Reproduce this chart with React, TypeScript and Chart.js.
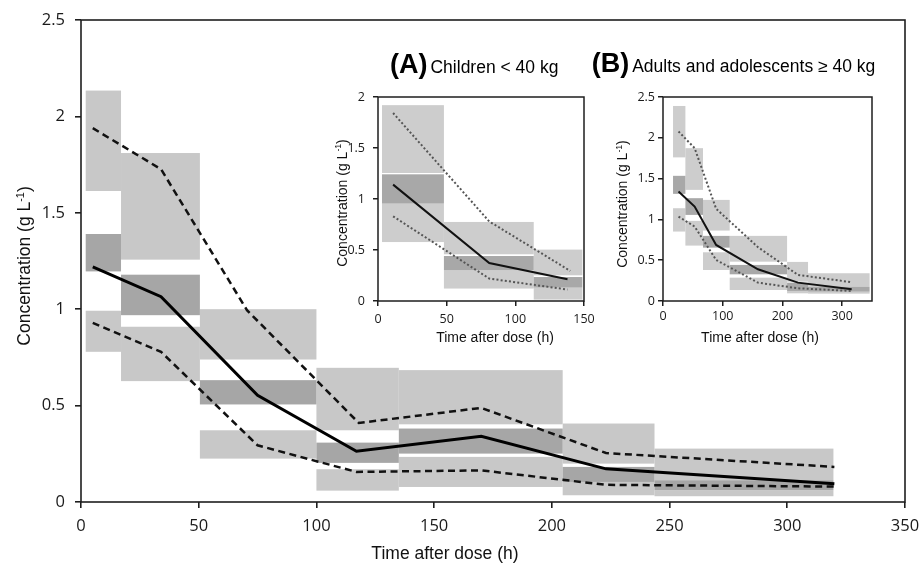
import React, { useEffect, useRef } from "react";
import { Chart, registerables } from "chart.js";

Chart.register(...registerables);

// ================= MAIN PANEL DATA =================
const mainXTicks = [0, 50, 100, 150, 200, 250, 300, 350];
const mainYTicks = [0, 0.5, 1, 1.5, 2, 2.5];
const mainBinStart = [2, 17, 50.5, 100, 135, 204.6, 243.6];
const mainBinEnd = [17, 50.5, 100, 135, 204.6, 243.6, 319.6];
const mainUpperHi = [2.134, 1.81, 1.0, 0.696, 0.684, 0.407, 0.277];
const mainUpperLo = [1.613, 1.257, 0.739, 0.372, 0.403, 0.199, 0.113];
const mainMedHi = [1.39, 1.179, 0.632, 0.308, 0.381, 0.182, 0.113];
const mainMedLo = [1.196, 0.969, 0.506, 0.203, 0.251, 0.104, 0.061];
const mainLowerHi = [0.992, 0.909, 0.372, 0.17, 0.234, 0.104, 0.061];
const mainLowerLo = [0.779, 0.627, 0.225, 0.059, 0.078, 0.035, 0.03];
const mainMedianT = [5, 34, 75, 117, 170, 223, 320];
const mainMedianC = [1.22, 1.065, 0.554, 0.263, 0.341, 0.172, 0.095];
const mainUpperT = [5, 34, 70.5, 118, 170, 223, 320];
const mainUpperC = [1.939, 1.726, 0.995, 0.41, 0.488, 0.254, 0.182];
const mainLowerT = [5, 34, 75, 117, 170, 223, 320];
const mainLowerC = [0.929, 0.779, 0.294, 0.156, 0.164, 0.089, 0.08];

// ================= INSET A DATA (Children < 40 kg) =================
const aXTicks = [0, 50, 100, 150];
const aYTicks = [0, 0.5, 1, 1.5, 2];
const aBinStart = [2.9, 48, 113.4];
const aBinEnd = [48, 113.4, 148.8];
const aUpperHi = [1.92, 0.775, 0.504];
const aUpperLo = [1.255, 0.458, 0.252];
const aMedHi = [1.242, 0.441, 0.235];
const aMedLo = [0.955, 0.301, 0.131];
const aLowerHi = [0.955, 0.301, 0.131];
const aLowerLo = [0.578, 0.122, 0.014];
const aMedianT = [11, 81, 138];
const aMedianC = [1.141, 0.373, 0.213];
const aUpperT = [11, 81, 140];
const aUpperC = [1.843, 0.78, 0.295];
const aLowerT = [11, 81, 138];
const aLowerC = [0.83, 0.22, 0.112];

// ================= INSET B DATA (Adults and adolescents >= 40 kg) =================
const bXTicks = [0, 100, 200, 300];
const bYTicks = [0, 0.5, 1, 1.5, 2, 2.5];
const bBinStart = [16.8, 37.5, 67, 111.7, 207.8, 242.9];
const bBinEnd = [37.5, 67, 111.7, 207.8, 242.9, 346];
const bUpperHi = [2.39, 1.873, 1.239, 0.798, 0.479, 0.34];
const bUpperLo = [1.76, 1.362, 0.863, 0.482, 0.237, 0.176];
const bMedHi = [1.534, 1.26, 0.798, 0.442, 0.225, 0.176];
const bMedLo = [1.313, 1.055, 0.654, 0.327, 0.123, 0.114];
const bLowerHi = [1.137, 0.982, 0.597, 0.286, 0.123, 0.114];
const bLowerLo = [0.851, 0.679, 0.38, 0.135, 0.094, 0.09];
const bMedianT = [26, 53, 89, 159, 226, 316];
const bMedianC = [1.341, 1.157, 0.687, 0.389, 0.225, 0.143];
const bUpperT = [26, 53, 89, 159, 226, 316];
const bUpperC = [2.078, 1.873, 1.13, 0.66, 0.32, 0.23];
const bLowerT = [26, 53, 89, 159, 226, 316];
const bLowerC = [1.035, 0.912, 0.503, 0.225, 0.156, 0.123];

const X_TITLE = "Time after dose (h)";
const Y_TITLE_MAIN = "Concentration (g L";
const Y_TITLE_SUP = "-1";
const Y_TITLE_END = ")";

type Box = { x0: number; x1: number; lo: number; hi: number; color: string };

function buildBoxes(
  start: number[], end: number[],
  uLo: number[], uHi: number[], mLo: number[], mHi: number[], lLo: number[], lHi: number[],
  light: string, dark: string
): Box[] {
  const out: Box[] = [];
  start.forEach((s, i) => {
    out.push({ x0: s, x1: end[i], lo: uLo[i], hi: uHi[i], color: light });
    out.push({ x0: s, x1: end[i], lo: lLo[i], hi: lHi[i], color: light });
  });
  start.forEach((s, i) => out.push({ x0: s, x1: end[i], lo: mLo[i], hi: mHi[i], color: dark }));
  return out;
}

function pts(t: number[], c: number[]) {
  return t.map((x, i) => ({ x, y: c[i] }));
}

type PanelCfg = {
  left: number; top: number; width: number; height: number;
  padTop: number; padRight: number; padLeft: number; padBottom: number; yWidth: number; xHeight: number;
  xMax: number; yMax: number; xTicks: number[]; yTicks: number[];
  boxes: Box[];
  median: { x: number; y: number }[]; upper: { x: number; y: number }[]; lower: { x: number; y: number }[];
  medianWidth: number; medianColor: string; bandWidth: number; bandDash: number[]; bandColor: string;
  tickSize: number; tickLen: number; xPad: number; yPad: number; frameWidth: number;
  xTitleFrac: number; xTitleOffset: number; yTitleDx: number; yTitleDy: number; titleSize: number;
  header?: { dx: number; dy: number; bold: string; text: string; boldSize: number; textSize: number };
};

function makeBoxPlugin(boxes: Box[]) {
  return {
    id: "vpcBoxes",
    beforeDatasetsDraw(chart: any) {
      const { ctx, chartArea: ca } = chart;
      const xs = chart.scales.x;
      const ys = chart.scales.y;
      ctx.save();
      ctx.beginPath();
      ctx.rect(ca.left, ca.top, ca.right - ca.left, ca.bottom - ca.top);
      ctx.clip();
      for (const b of boxes) {
        const px0 = xs.getPixelForValue(b.x0);
        const px1 = xs.getPixelForValue(b.x1);
        const py0 = ys.getPixelForValue(b.hi);
        const py1 = ys.getPixelForValue(b.lo);
        ctx.fillStyle = b.color;
        ctx.fillRect(px0, py0, px1 - px0, py1 - py0);
      }
      ctx.restore();
    },
  };
}

const TITLE_FONT = "'Liberation Sans', Arial, sans-serif";

function makeDecorPlugin(cfg: PanelCfg) {
  return {
    id: "decor",
    afterDraw(chart: any) {
      const { ctx, chartArea: ca } = chart;
      ctx.save();
      ctx.strokeStyle = "#1e1e1e";
      ctx.lineWidth = cfg.frameWidth;
      ctx.strokeRect(ca.left, ca.top, ca.right - ca.left, ca.bottom - ca.top);
      ctx.fillStyle = "#111";
      ctx.font = `${cfg.titleSize}px ${TITLE_FONT}`;
      ctx.textAlign = "center";
      ctx.textBaseline = "middle";
      ctx.fillText(X_TITLE, ca.left + cfg.xTitleFrac * (ca.right - ca.left), ca.bottom + cfg.xTitleOffset);
      const s = cfg.titleSize;
      ctx.save();
      ctx.translate(ca.left + cfg.yTitleDx, (ca.top + ca.bottom) / 2 + cfg.yTitleDy);
      ctx.rotate(-Math.PI / 2);
      ctx.textAlign = "left";
      ctx.textBaseline = "alphabetic";
      ctx.font = `${s}px ${TITLE_FONT}`;
      const w1 = ctx.measureText(Y_TITLE_MAIN).width;
      const w3 = ctx.measureText(Y_TITLE_END).width;
      ctx.font = `${s * 0.62}px ${TITLE_FONT}`;
      const w2 = ctx.measureText(Y_TITLE_SUP).width;
      let x = -(w1 + w2 + w3) / 2;
      const base = s * 0.36;
      ctx.font = `${s}px ${TITLE_FONT}`;
      ctx.fillText(Y_TITLE_MAIN, x, base);
      x += w1;
      ctx.font = `${s * 0.62}px ${TITLE_FONT}`;
      ctx.fillText(Y_TITLE_SUP, x, base - s * 0.38);
      x += w2;
      ctx.font = `${s}px ${TITLE_FONT}`;
      ctx.fillText(Y_TITLE_END, x, base);
      ctx.restore();
      if (cfg.header) {
        const h = cfg.header;
        ctx.textAlign = "left";
        ctx.textBaseline = "alphabetic";
        ctx.fillStyle = "#000";
        ctx.font = `bold ${h.boldSize}px ${TITLE_FONT}`;
        const hx = ca.left + h.dx;
        const hy = ca.top + h.dy;
        ctx.fillText(h.bold, hx, hy);
        const bw = ctx.measureText(h.bold).width;
        ctx.font = `${h.textSize}px ${TITLE_FONT}`;
        ctx.fillText(h.text, hx + bw + 3, hy);
      }
      ctx.restore();
    },
  };
}

const TICK_FONT = "'Open Sans', 'Liberation Sans', sans-serif";

function Panel({ cfg }: { cfg: PanelCfg }) {
  const ref = useRef<HTMLCanvasElement | null>(null);
  useEffect(() => {
    if (!ref.current) return;
    const line = (data: any, width: number, color: string, dash: number[]) => ({
      data,
      borderColor: color,
      borderWidth: width,
      borderDash: dash,
      pointRadius: 0,
      pointHoverRadius: 0,
      fill: false,
      tension: 0,
      borderCapStyle: "butt",
    });
    const fmt = (v: any) => String(Number(v));
    const chart = new Chart(ref.current, {
      type: "line",
      data: {
        datasets: [
          line(cfg.upper, cfg.bandWidth, cfg.bandColor, cfg.bandDash),
          line(cfg.lower, cfg.bandWidth, cfg.bandColor, cfg.bandDash),
          line(cfg.median, cfg.medianWidth, cfg.medianColor, []),
        ] as any,
      },
      options: {
        responsive: false,
        animation: false,
        events: [],
        layout: { padding: { top: cfg.padTop, right: cfg.padRight, left: cfg.padLeft, bottom: cfg.padBottom } },
        plugins: { legend: { display: false }, tooltip: { enabled: false } },
        scales: {
          x: {
            type: "linear",
            min: 0,
            max: cfg.xMax,
            afterBuildTicks: (s: any) => {
              s.ticks = cfg.xTicks.map((v) => ({ value: v }));
            },
            afterFit: (s: any) => {
              s.height = cfg.xHeight;
              s.paddingLeft = 0;
              s.paddingRight = 0;
            },
            ticks: {
              autoSkip: false,
              maxRotation: 0,
              minRotation: 0,
              padding: cfg.xPad,
              color: "#1a1a1a",
              font: { family: TICK_FONT, size: cfg.tickSize },
              callback: fmt,
            },
            grid: {
              drawOnChartArea: false,
              drawTicks: true,
              tickLength: cfg.tickLen,
              color: "#1e1e1e",
              lineWidth: cfg.frameWidth,
            },
            border: { display: false },
          },
          y: {
            type: "linear",
            min: 0,
            max: cfg.yMax,
            afterBuildTicks: (s: any) => {
              s.ticks = cfg.yTicks.map((v) => ({ value: v }));
            },
            afterFit: (s: any) => {
              s.width = cfg.yWidth;
              s.paddingTop = 0;
              s.paddingBottom = 0;
            },
            ticks: {
              padding: cfg.yPad,
              color: "#1a1a1a",
              font: { family: TICK_FONT, size: cfg.tickSize },
              callback: fmt,
            },
            grid: {
              drawOnChartArea: false,
              drawTicks: true,
              tickLength: cfg.tickLen,
              color: "#1e1e1e",
              lineWidth: cfg.frameWidth,
            },
            border: { display: false },
          },
        },
      } as any,
      plugins: [makeBoxPlugin(cfg.boxes), makeDecorPlugin(cfg)] as any,
    });
    return () => chart.destroy();
  }, [cfg]);
  return (
    <canvas
      ref={ref}
      width={cfg.width}
      height={cfg.height}
      style={{ position: "absolute", left: cfg.left, top: cfg.top, width: cfg.width, height: cfg.height }}
    />
  );
}

const mainCfg: PanelCfg = {
  left: 0, top: 0, width: 919, height: 564,
  padTop: 20, padRight: 14, padLeft: 0, padBottom: 0, yWidth: 81, xHeight: 62,
  xMax: 350, yMax: 2.5, xTicks: mainXTicks, yTicks: mainYTicks,
  boxes: buildBoxes(mainBinStart, mainBinEnd, mainUpperLo, mainUpperHi, mainMedLo, mainMedHi, mainLowerLo, mainLowerHi, "#c8c8c8", "#a6a6a6"),
  median: pts(mainMedianT, mainMedianC),
  upper: pts(mainUpperT, mainUpperC),
  lower: pts(mainLowerT, mainLowerC),
  medianWidth: 3, medianColor: "#000", bandWidth: 2.5, bandDash: [7, 4.5], bandColor: "#111",
  tickSize: 16.5, tickLen: 6, xPad: 8, yPad: 10, frameWidth: 1.6,
  xTitleFrac: 0.4417, xTitleOffset: 52, yTitleDx: -57, yTitleDy: 5, titleSize: 17.5,
};

const aCfg: PanelCfg = {
  left: 318, top: 40, width: 280, height: 310,
  padTop: 57, padRight: 14, padLeft: 0, padBottom: 0, yWidth: 60, xHeight: 49,
  xMax: 150, yMax: 2, xTicks: aXTicks, yTicks: aYTicks,
  boxes: buildBoxes(aBinStart, aBinEnd, aUpperLo, aUpperHi, aMedLo, aMedHi, aLowerLo, aLowerHi, "#cdcdcd", "#a8a8a8"),
  median: pts(aMedianT, aMedianC),
  upper: pts(aUpperT, aUpperC),
  lower: pts(aLowerT, aLowerC),
  medianWidth: 2, medianColor: "#111", bandWidth: 2, bandDash: [2, 2.2], bandColor: "#555",
  tickSize: 12.5, tickLen: 5, xPad: 6, yPad: 8, frameWidth: 1.5,
  xTitleFrac: 0.568, xTitleOffset: 37, yTitleDx: -36.5, yTitleDy: 4, titleSize: 14,
  header: { dx: 12, dy: -24, bold: "(A)", text: "Children < 40 kg", boldSize: 27, textSize: 17.5 },
};

const bCfg: PanelCfg = {
  left: 588, top: 40, width: 320, height: 310,
  padTop: 57, padRight: 36, padLeft: 0, padBottom: 0, yWidth: 75, xHeight: 49,
  xMax: 350, yMax: 2.5, xTicks: bXTicks, yTicks: bYTicks,
  boxes: buildBoxes(bBinStart, bBinEnd, bUpperLo, bUpperHi, bMedLo, bMedHi, bLowerLo, bLowerHi, "#cdcdcd", "#a8a8a8"),
  median: pts(bMedianT, bMedianC),
  upper: pts(bUpperT, bUpperC),
  lower: pts(bLowerT, bLowerC),
  medianWidth: 2, medianColor: "#111", bandWidth: 2, bandDash: [2, 2.2], bandColor: "#555",
  tickSize: 12.5, tickLen: 5, xPad: 3, yPad: 3, frameWidth: 1.5,
  xTitleFrac: 0.464, xTitleOffset: 37, yTitleDx: -41, yTitleDy: 5, titleSize: 14,
  header: { dx: -71.3, dy: -25.5, bold: "(B)", text: "Adults and adolescents \u2265 40 kg", boldSize: 27, textSize: 17.5 },
};

export default function App() {
  return (
    <div style={{ position: "fixed", left: 0, top: 0, width: 919, height: 564, background: "#fff" }}>
      <Panel cfg={mainCfg} />
      <Panel cfg={aCfg} />
      <Panel cfg={bCfg} />
    </div>
  );
}
